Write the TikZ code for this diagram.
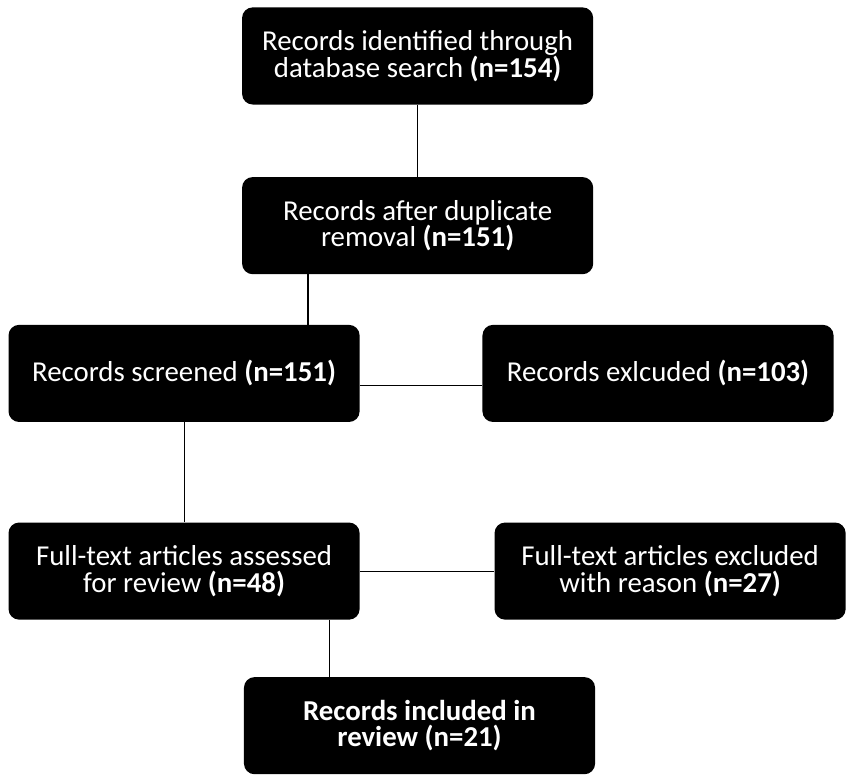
\documentclass[tikz,border=0pt]{standalone}
\usepackage{fontspec}
\setmainfont{Carlito}
\begin{document}
\begin{tikzpicture}[
  font=\fontsize{21.7}{20}\selectfont,
  box/.style={fill=black, text=white, rounded corners=8pt, align=center,
              minimum width=9.29cm, minimum height=2.57cm, inner sep=3pt},
  link/.style={draw, black, line width=0.8pt},
]
\useasboundingbox (0,0) rectangle (22.49,-20.69);

% ---------------- main column ----------------
\node[box] (ident)  at (11.05, -1.48) {Records identified through\\database search \textbf{(n=154)}};
\node[box] (dedup)  at (11.05, -5.97) {Records after duplicate\\removal \textbf{(n=151)}};
\node[box] (screen) at ( 4.87, -9.88) {Records screened \textbf{(n=151)}};
\node[box] (excl)   at (17.41, -9.88) {Records exlcuded \textbf{(n=103)}};
\node[box] (full)   at ( 4.87,-15.11) {Full-text articles assessed\\for review \textbf{(n=48)}};
\node[box] (fexcl)  at (17.73,-15.11) {Full-text articles excluded\\with reason \textbf{(n=27)}};
\node[box] (incl)   at (11.10,-19.20) {\textbf{Records included in}\\\textbf{review (n=21)}};

% ---------------- where the lines run ----------------
\coordinate (c2) at ( 8.15,0);
\coordinate (c3) at ( 0,-10.19);
\coordinate (c6) at ( 8.73,0);

\draw[link] (ident)  -- (dedup);
\draw[link] (dedup.south -| c2) -- (screen.north -| c2);
\draw[link] (screen.east |- c3) -- (excl.west |- c3);
\draw[link] (screen) -- (full);
\draw[link] (full)   -- (fexcl);
\draw[link] (full.south -| c6) -- (incl.north -| c6);

\end{tikzpicture}
\end{document}
